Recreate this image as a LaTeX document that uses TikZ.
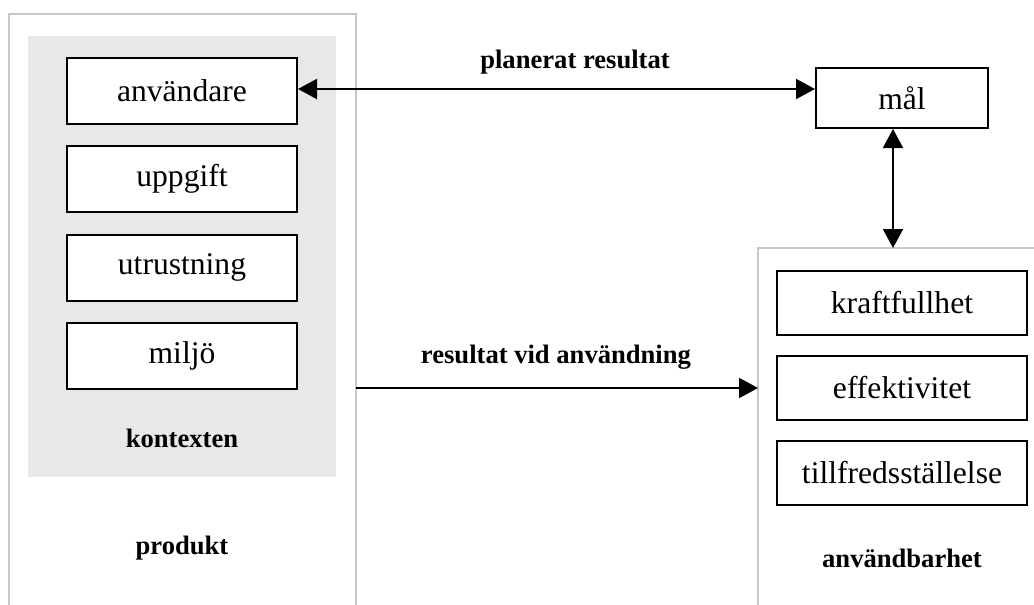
\documentclass[tikz,border=0pt]{standalone}
\usepackage{fontspec}
\setmainfont{Liberation Serif}
\usepackage{xcolor}
\usepackage{tikz}
\usetikzlibrary{arrows.meta, positioning}
\definecolor{panelgray}{HTML}{C8C8C8}
\definecolor{ctxgray}{HTML}{E8E8E8}

\begin{document}
\begin{tikzpicture}[x=0.5pt, y=-0.5pt,
		item/.style={draw, line width=1pt, fill=white, minimum width=115pt, minimum height=33pt, inner sep=0pt, font=\fontsize{15.8}{18}\selectfont},
		useitem/.style={item, minimum width=125pt, minimum height=32pt},
		caption/.style={inner sep=0pt, font=\fontsize{13.3}{15}\selectfont\bfseries},
		panel/.style={draw=none, inner sep=0pt, anchor=north west},
		rim/.style={draw=panelgray, line width=1pt},
		conn/.style={line width=1pt, {Triangle[length=9.5pt, width=10pt]}-{Triangle[length=9.5pt, width=10pt]}},
		oneway/.style={line width=1pt, -{Triangle[length=9.5pt, width=10pt]}}]
				\useasboundingbox (0,0) rectangle (1034,605);
				% Panels and background:
				\node[panel, minimum width=173pt, minimum height=300pt] (prod) at (9,14) {};
				\node[panel, minimum width=141pt, minimum height=180pt] (bruk) at (758,248) {};
				\node[panel, fill=ctxgray, minimum width=154pt, minimum height=220.5pt] (ctx) at (28,36) {};
				\draw[rim] (prod.south west) -- (prod.north west) -- (prod.north east) -- (prod.south east);
				\draw[rim] (bruk.south west) -- (bruk.north west) -- (bruk.north east);
				% Boxes:
				\node[item] (anv) at (182,91) {användare};
				\node[item] (upp) at (182,179) {uppgift};
				\node[item] (utr) at (182,267.5) {utrustning};
				\node[item] (mil) at (182,356) {miljö};
				\node[item, minimum width=86pt, minimum height=30pt] (mal) at (902,98) {mål};
				\node[useitem] (kraft) at (902,302.5) {kraftfullhet};
				\node[useitem] (eff) at (902,388) {effektivitet};
				\node[useitem] (tillf) at (902,473) {tillfredsställelse};
				% Labels:
				\node[caption] (ctxlab) at (182,438) {kontexten};
				\node[caption] (prodlab) at (182,548) {produkt};
				\node[caption] (bruklab) at (902,558) {användbarhet};
				\node[caption] (plan) at (575,62) {planerat resultat};
				\node[caption] (resv) at (556,357) {resultat vid användning};
				% Arrows:
				\draw[conn] ([yshift=1pt]anv.east) -- ([yshift=1pt]anv.east -| mal.west);
				\draw[conn] ([xshift=-4.5pt]mal.south) -- ([xshift=-4.5pt]mal.south |- bruk.north);
				\draw[oneway] (prod.east |- eff.west) -- (bruk.west |- eff.west);
			\end{tikzpicture}
\end{document}
